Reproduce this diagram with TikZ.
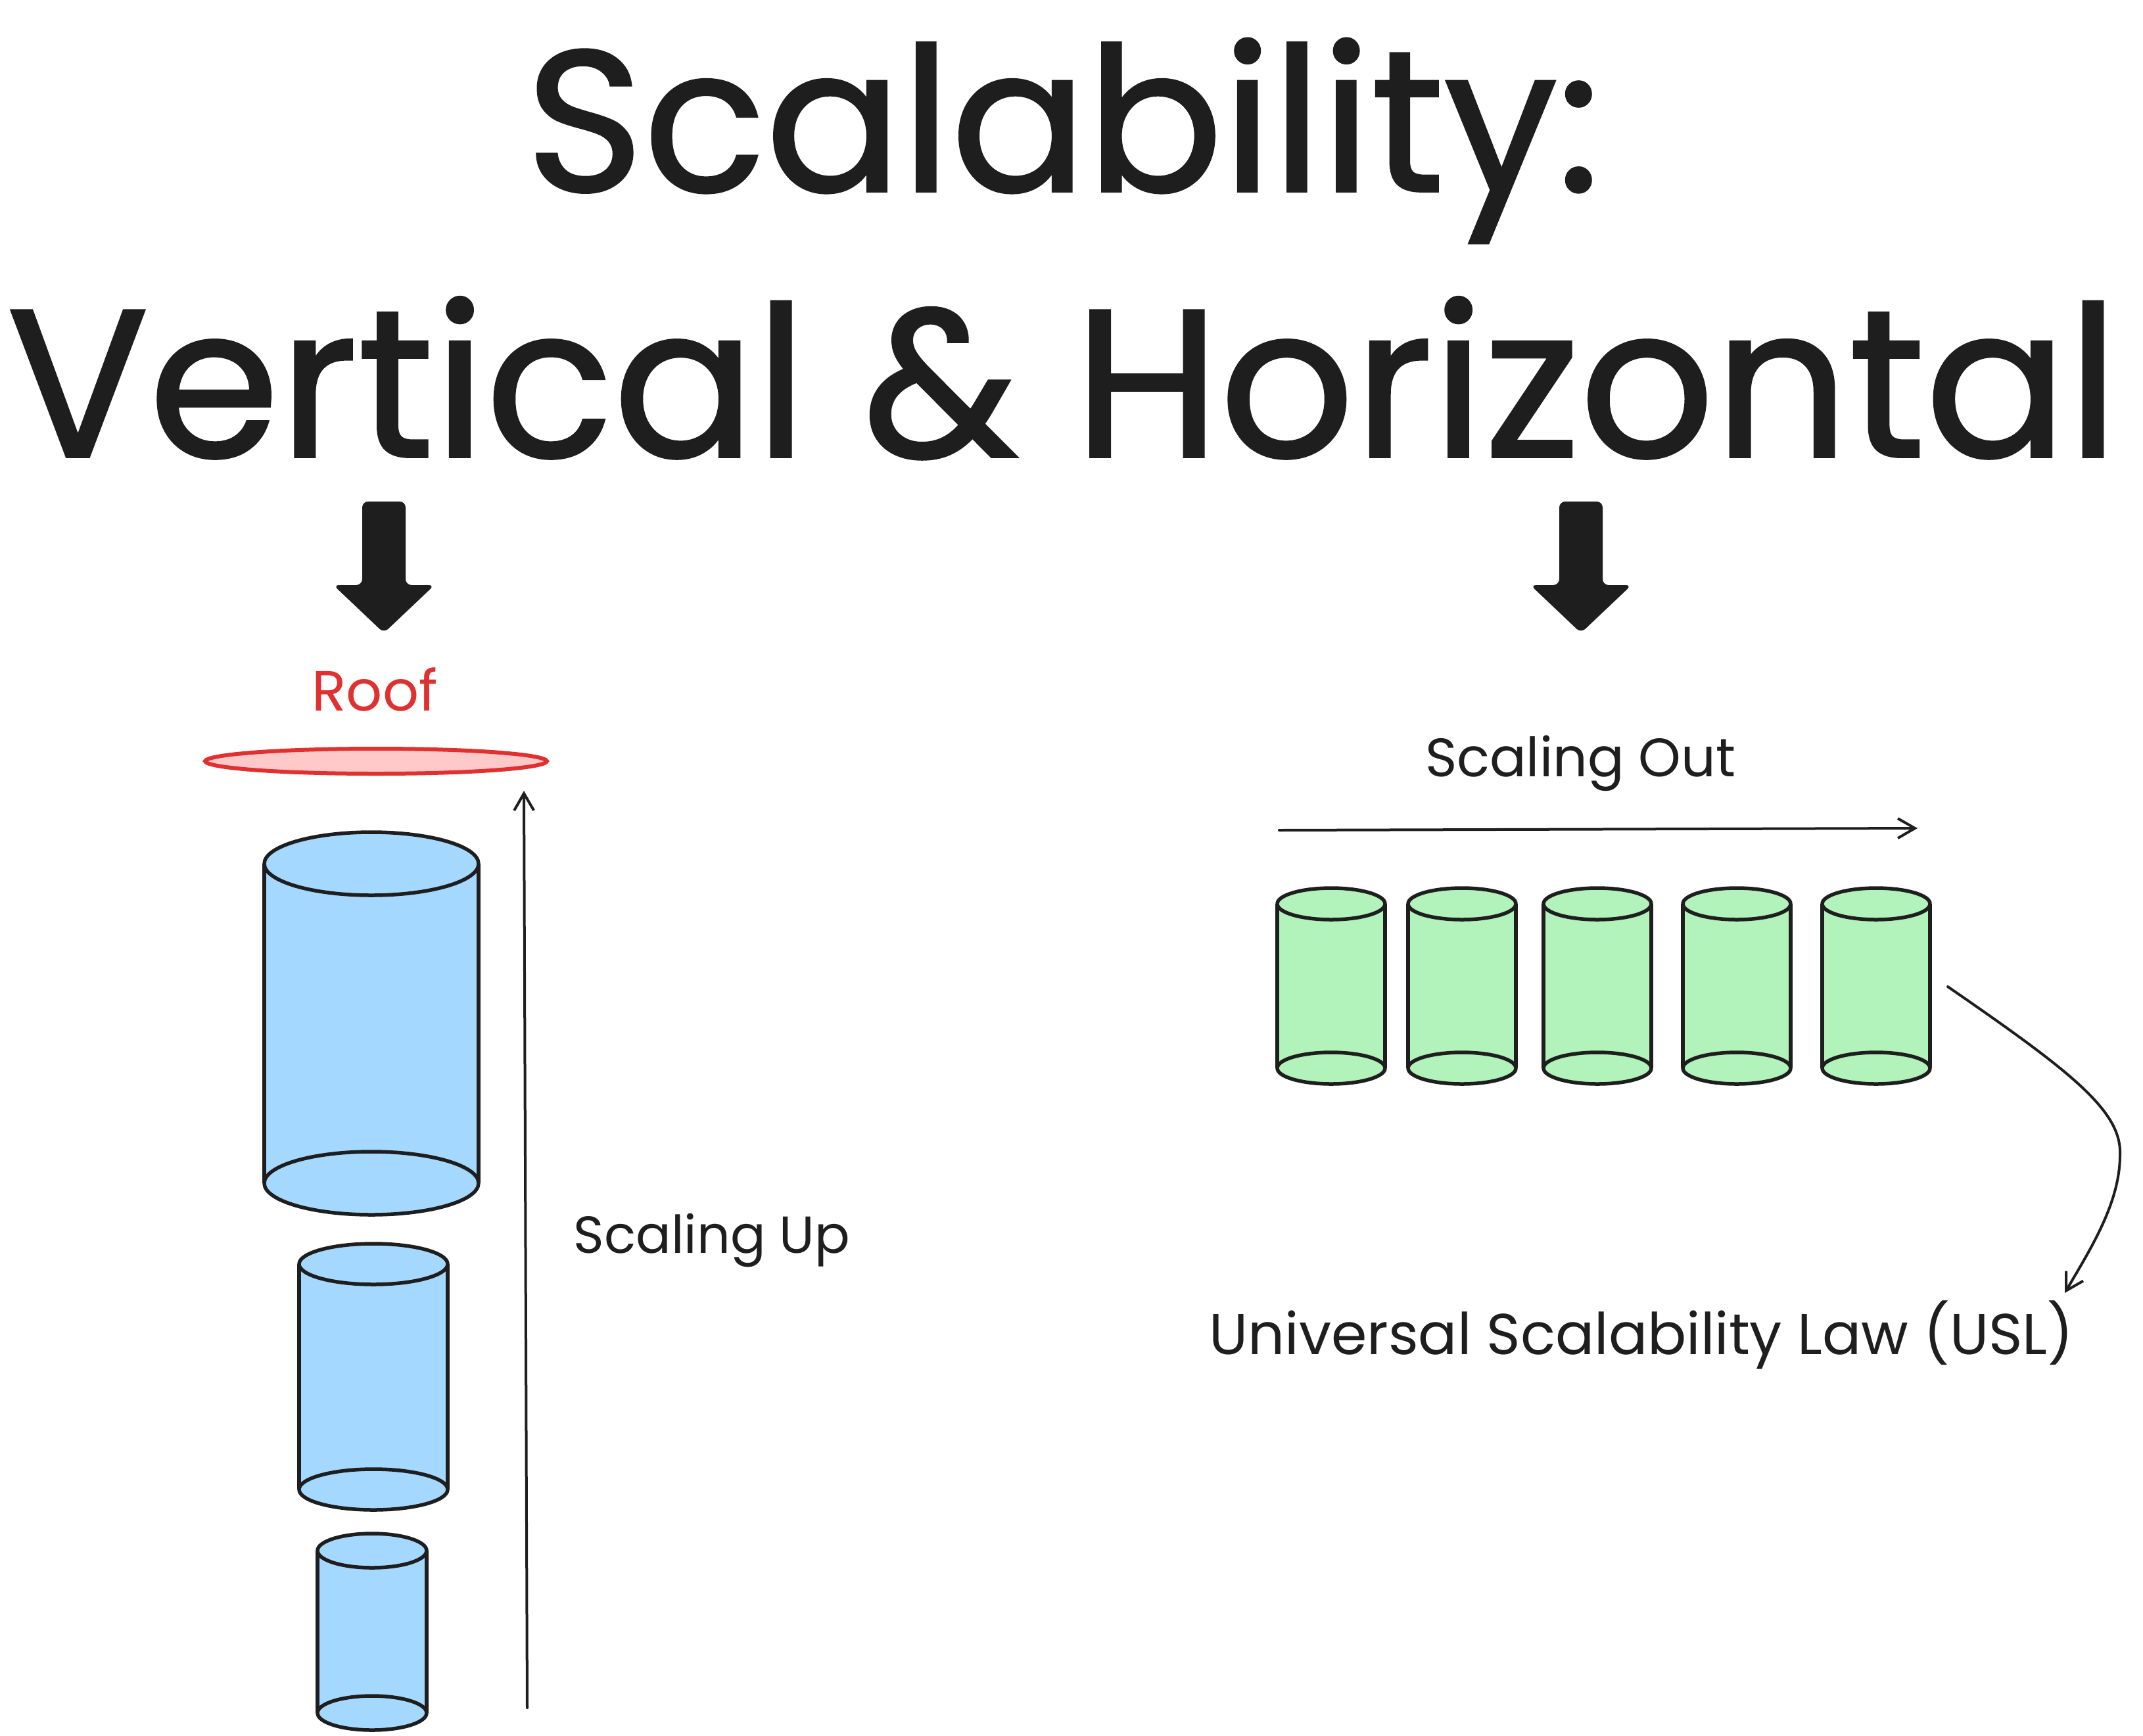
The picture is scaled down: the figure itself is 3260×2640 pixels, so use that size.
\documentclass[tikz,border=0pt]{standalone}
\usepackage{fontspec}
\setmainfont{Poppins}
\usetikzlibrary{arrows.meta}
\definecolor{ink}{HTML}{1E1E1E}
\definecolor{bluefill}{HTML}{A5D8FF}
\definecolor{greenfill}{HTML}{B2F2BB}
\definecolor{redink}{HTML}{E03131}
\definecolor{pinkfill}{HTML}{FFC9C9}
\newcommand\dbcyl[6]{%
  \fill[#6] (#1-#2,#3) rectangle (#1+#2,#4);
  \draw[cylline] (#1-#2,#3) -- (#1-#2,#4) (#1+#2,#3) -- (#1+#2,#4);
  \filldraw[cylline, fill=#6] (#1,#4) ellipse [x radius=#2, y radius=#5];
  \filldraw[cylline, fill=#6] (#1,#3) ellipse [x radius=#2, y radius=#5];
}
\newcommand\blockdown[1]{%
  \fill[ink, rounded corners=9pt] (#1-33,763) -- (#1+33,763) -- (#1+33,890) -- (#1+77,890) -- (#1,963) -- (#1-77,890) -- (#1-33,890) -- cycle;
}
\begin{document}
\begin{tikzpicture}[x=1pt,y=-1pt,
  cylline/.style={draw=ink, line width=5.5pt, line join=round},
  conn/.style={draw=ink, line width=4pt, line cap=round, -{Straight Barb[length=26pt,width=30pt,line width=4pt]}},
  lbl/.style={anchor=base, inner sep=0pt, text=ink}]
\useasboundingbox (0,0) rectangle (3260,2640);

% titles
\node[lbl] (t1) at (1617,291) {\resizebox{1632pt}{!}{\addfontfeatures{FakeBold=1.2}Scalability:}};
\node[lbl] (t2) at (1617,695) {\resizebox{3212pt}{!}{\addfontfeatures{FakeBold=1.2}Vertical \& Horizontal}};

% block arrows
\blockdown{584}
\blockdown{2405}

% roof
\node[lbl, text=redink] (roof) at (570,1081) {\resizebox{191pt}{!}{Roof}};
\filldraw[draw=redink, fill=pinkfill, line width=6pt]
  (312,1158) .. controls (314,1148) and (420,1139) .. (572,1139)
  .. controls (724,1139) and (830,1148) .. (832,1158)
  .. controls (830,1168) and (724,1177) .. (572,1177)
  .. controls (420,1177) and (314,1168) .. (312,1158) -- cycle;

% vertical cylinders
\dbcyl{565}{163}{1314}{1800}{48}{bluefill}
\dbcyl{568}{113}{1923}{2266}{31}{bluefill}
\dbcyl{566}{83}{2359}{2606}{26}{bluefill}

% scaling up arrow
\coordinate (upS) at (802,2598);
\coordinate (upE) at (797,1203);
\draw[conn] (upS) -- (upE);
\node[lbl] (sup) at (1083,1906) {\resizebox{420pt}{!}{Scaling Up}};

% horizontal
\node[lbl] (sout) at (2404,1181) {\resizebox{472pt}{!}{Scaling Out}};
\coordinate (outS) at (1946,1263);
\coordinate (outE) at (2917,1260);
\draw[conn] (outS) -- (outE);

\foreach \cx in {2025,2224,2430,2642,2854}{
  \dbcyl{\cx}{82}{1375}{1625}{24}{greenfill}
}

% USL
\node[lbl] (usl) at (2497,2060) {\resizebox{1314pt}{!}{Universal Scalability Law (USL)}};
\coordinate (cS) at (2963,1501);
\coordinate (cM) at (3225,1757);
\coordinate (cE) at (3141,1967);
\draw[conn] (cS) .. controls (3150,1630) and (3228,1690) .. (cM)
  .. controls (3225,1830) and (3180,1900) .. (cE);
\end{tikzpicture}
\end{document}
